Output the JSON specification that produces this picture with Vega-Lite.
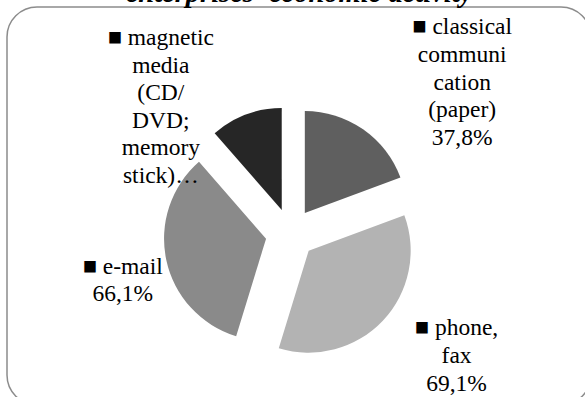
{
  "$schema": "https://vega.github.io/schema/vega-lite/v6.json",
  "width": 584,
  "height": 398,
  "autosize": {"type": "none"},
  "padding": {"left": 7, "top": 7, "right": 0, "bottom": 0},
  "background": "white",
  "view": {"stroke": "#8c8c8c", "strokeWidth": 1.5, "cornerRadius": 30, "fill": null},
  "title": {
    "text": "enterprises' economic activity",
    "font": "Liberation Serif",
    "fontSize": 28.5,
    "fontWeight": "bold",
    "fontStyle": "italic",
    "color": "black",
    "anchor": "middle",
    "frame": "group",
    "baseline": "alphabetic",
    "offset": -23
  },
  "data": {
    "values": [
      {"idx": 1, "category": "classical communication (paper)", "pct": 37.8, "label": "■ classical\ncommuni\ncation\n(paper)\n37,8%"},
      {"idx": 2, "category": "phone, fax", "pct": 69.1, "label": "■ phone,\nfax\n69,1%"},
      {"idx": 3, "category": "e-mail", "pct": 66.1, "label": "■ e-mail\n66,1%"},
      {"idx": 4, "category": "magnetic media (CD/DVD; memory stick)", "pct": 22.3, "label": "■ magnetic\nmedia\n(CD/\nDVD;\nmemory\nstick)…"}
    ]
  },
  "encoding": {
    "theta": {"field": "pct", "type": "quantitative", "stack": true},
    "order": {"field": "idx", "type": "quantitative"}
  },
  "layer": [
    {
      "mark": {
        "type": "arc",
        "x": {"expr": "283.5 + 25 * sin(scale('theta', (datum.pct_start + datum.pct_end) / 2))"},
        "y": {"expr": "226.5 - 25 * cos(scale('theta', (datum.pct_start + datum.pct_end) / 2))"},
        "outerRadius": 102
      },
      "encoding": {
        "color": {
          "field": "category",
          "type": "nominal",
          "scale": {
            "domain": ["classical communication (paper)", "phone, fax", "e-mail", "magnetic media (CD/DVD; memory stick)"],
            "range": ["#5f5f5f", "#b3b3b3", "#8a8a8a", "#262626"]
          },
          "legend": null
        }
      }
    },
    {
      "mark": {
        "type": "text",
        "x": 283.5,
        "y": 226.5,
        "radius": 150,
        "font": "Liberation Serif",
        "fontSize": 23.5,
        "lineHeight": 27.6,
        "lineBreak": "\n",
        "align": "center",
        "baseline": "middle",
        "fill": "black",
        "dx": {"expr": "datum.idx == 1 ? 86 : datum.idx == 2 ? 57 : datum.idx == 3 ? -21 : -77"},
        "dy": {"expr": "datum.idx == 1 ? -83 : datum.idx == 2 ? -8 : datum.idx == 3 ? 2 : -55"}
      },
      "encoding": {
        "detail": {"field": "category", "type": "nominal"},
        "text": {"field": "label", "type": "nominal"}
      }
    }
  ]
}
